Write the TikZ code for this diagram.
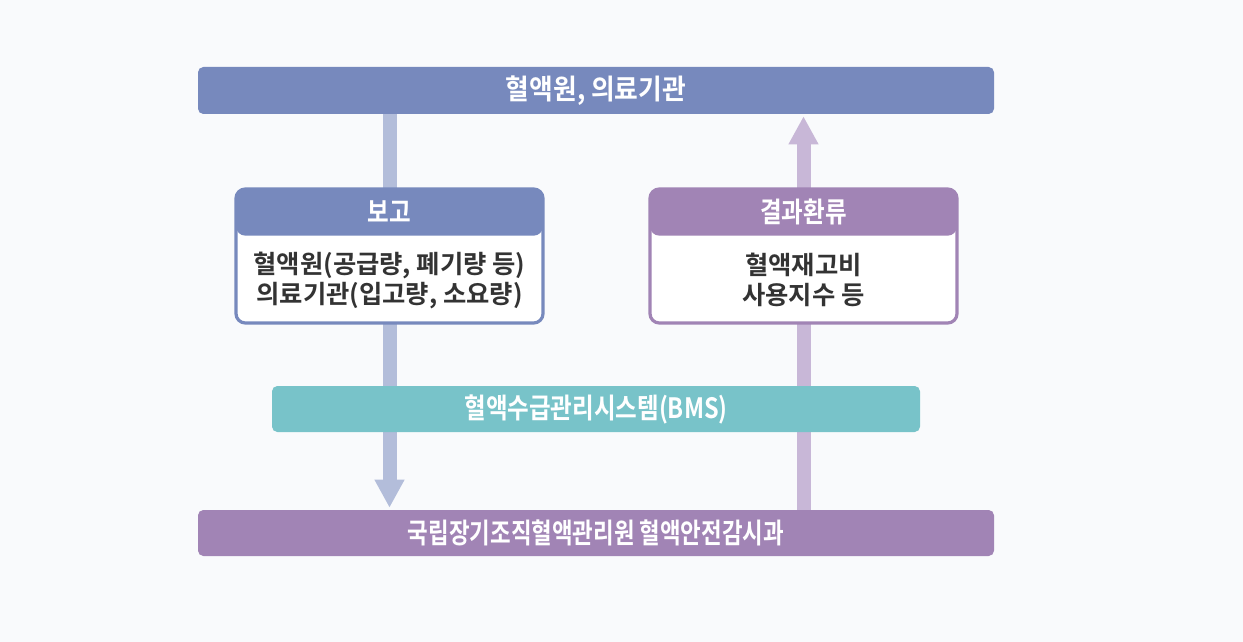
\documentclass[tikz,border=0pt]{standalone}
\usepackage{fontspec}
\setmainfont{Noto Sans CJK KR}[BoldFont={Noto Sans CJK KR Bold}]
\newfontfamily\condfont{Noto Sans CJK KR Bold}[FakeStretch=0.84]
\newfontfamily\topfont{Noto Sans CJK KR Bold}[FakeStretch=0.92]
\newfontfamily\narrowfont{Noto Sans CJK KR Bold}[FakeStretch=0.8]
\usetikzlibrary{arrows.meta}
\definecolor{bgC}{HTML}{F9FAFC}
\definecolor{blueC}{HTML}{7789BD}
\definecolor{purpleC}{HTML}{A184B5}
\definecolor{tealC}{HTML}{78C3C9}
\definecolor{arrowB}{HTML}{B3BDDA}
\definecolor{arrowP}{HTML}{C8B7D7}
\definecolor{textC}{HTML}{333333}

\begin{document}
\begin{tikzpicture}[x=0.75pt,y=-0.75pt]
	\tikzstyle{bar}=[rounded corners=4pt,inner sep=0pt,text=white,font=\condfont\fontsize{21}{23}\selectfont]
	\tikzstyle{panel}=[draw,line width=2.4pt,rounded corners=7pt,fill=white,inner sep=0pt,minimum width=307*0.75pt,minimum height=134*0.75pt]
	\tikzstyle{head}=[text=white,font=\condfont\fontsize{21}{23}\selectfont]
	\tikzstyle{body}=[text=textC,align=center,font=\bfseries\fontsize{19}{22.5}\selectfont]
	\tikzstyle{flow}=[line width=10.5pt]
	
	\useasboundingbox[fill=bgC] (0,0) rectangle (1243,642);
	
	\node[bar,fill=blueC,minimum width=796*0.75pt,minimum height=47*0.75pt,font=\topfont\fontsize{21}{23}\selectfont] at (596,90.5) (top) {혈액원, 의료기관};
	\node[bar,fill=purpleC,minimum width=796*0.75pt,minimum height=46*0.75pt,font=\narrowfont\fontsize{21}{23}\selectfont] at (596,533) (bottom) {국립장기조직혈액관리원 혈액안전감시과};
	
	\coordinate (lx) at (389.5,0);
	\coordinate (rx) at (803.5,0);
	
	\draw[flow,arrowB,-{Triangle[width=21pt,length=21pt]}] (lx |- top.south) -- ([yshift=1.5pt]lx |- bottom.north);
	\draw[flow,arrowP,-{Triangle[width=21pt,length=21pt]}] (rx |- bottom.north) -- ([yshift=-1.5pt]rx |- top.south);
	
	\node[panel,draw=blueC,path picture={\fill[blueC] (path picture bounding box.north west) rectangle ([yshift=-35pt]path picture bounding box.north east);}] at (389.5,256) (report) {};
	\node[panel,draw=purpleC,path picture={\fill[purpleC] (path picture bounding box.north west) rectangle ([yshift=-35pt]path picture bounding box.north east);}] at (803.5,256) (feedback) {};
	
	\node[head] at (389.5,212) (reporthead) {보고};
	\node[head] at (803.5,212) (feedbackhead) {결과환류};
	
	\node[body] at (389.5,280) (reportbody) {혈액원(공급량, 폐기량 등)\\의료기관(입고량, 소요량)};
	\node[body] at (803.5,280) (feedbackbody) {혈액재고비\\사용지수 등};
	
	\node[bar,fill=tealC,minimum width=648*0.75pt,minimum height=46*0.75pt] at (596,409) (bms) {혈액수급관리시스템(BMS)};
\end{tikzpicture}
\end{document}
